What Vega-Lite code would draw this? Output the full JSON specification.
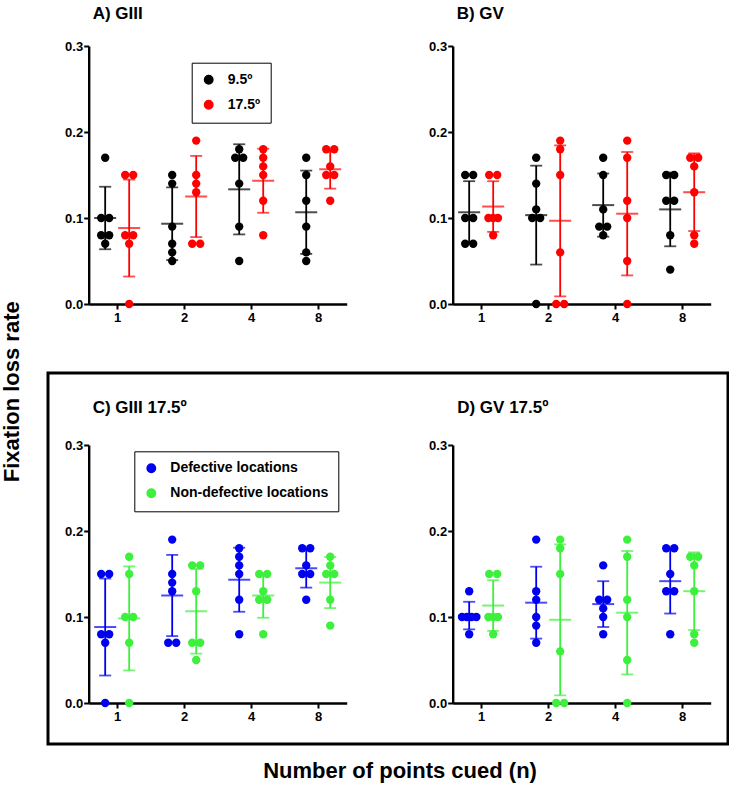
{
  "$schema": "https://vega.github.io/schema/vega-lite/v6.json",
  "padding": {"left": 0, "top": 0, "right": 0, "bottom": 0},
  "title": {"text": "Fixation loss rate", "orient": "left", "anchor": "middle", "fontSize": 22, "fontWeight": "bold", "offset": 23, "color": "black", "font": "Liberation Sans"},
  "spacing": 31,
  "resolve": {"scale": {"color": "independent"}},
  "datasets": {
    "top": [
      {"p": "A", "n": 1, "g": "9.5º", "v": 0.17}, {"p": "A", "n": 1, "g": "9.5º", "v": 0.10}, {"p": "A", "n": 1, "g": "9.5º", "v": 0.10}, {"p": "A", "n": 1, "g": "9.5º", "v": 0.08}, {"p": "A", "n": 1, "g": "9.5º", "v": 0.08}, {"p": "A", "n": 1, "g": "9.5º", "v": 0.07},
      {"p": "A", "n": 1, "g": "17.5º", "v": 0.15}, {"p": "A", "n": 1, "g": "17.5º", "v": 0.15}, {"p": "A", "n": 1, "g": "17.5º", "v": 0.08}, {"p": "A", "n": 1, "g": "17.5º", "v": 0.08}, {"p": "A", "n": 1, "g": "17.5º", "v": 0.07}, {"p": "A", "n": 1, "g": "17.5º", "v": 0.00},
      {"p": "A", "n": 2, "g": "9.5º", "v": 0.15}, {"p": "A", "n": 2, "g": "9.5º", "v": 0.14}, {"p": "A", "n": 2, "g": "9.5º", "v": 0.09}, {"p": "A", "n": 2, "g": "9.5º", "v": 0.07}, {"p": "A", "n": 2, "g": "9.5º", "v": 0.06}, {"p": "A", "n": 2, "g": "9.5º", "v": 0.05},
      {"p": "A", "n": 2, "g": "17.5º", "v": 0.19}, {"p": "A", "n": 2, "g": "17.5º", "v": 0.15}, {"p": "A", "n": 2, "g": "17.5º", "v": 0.14}, {"p": "A", "n": 2, "g": "17.5º", "v": 0.13}, {"p": "A", "n": 2, "g": "17.5º", "v": 0.07}, {"p": "A", "n": 2, "g": "17.5º", "v": 0.07},
      {"p": "A", "n": 4, "g": "9.5º", "v": 0.18}, {"p": "A", "n": 4, "g": "9.5º", "v": 0.17}, {"p": "A", "n": 4, "g": "9.5º", "v": 0.17}, {"p": "A", "n": 4, "g": "9.5º", "v": 0.14}, {"p": "A", "n": 4, "g": "9.5º", "v": 0.09}, {"p": "A", "n": 4, "g": "9.5º", "v": 0.05},
      {"p": "A", "n": 4, "g": "17.5º", "v": 0.18}, {"p": "A", "n": 4, "g": "17.5º", "v": 0.17}, {"p": "A", "n": 4, "g": "17.5º", "v": 0.16}, {"p": "A", "n": 4, "g": "17.5º", "v": 0.15}, {"p": "A", "n": 4, "g": "17.5º", "v": 0.12}, {"p": "A", "n": 4, "g": "17.5º", "v": 0.08},
      {"p": "A", "n": 8, "g": "9.5º", "v": 0.17}, {"p": "A", "n": 8, "g": "9.5º", "v": 0.15}, {"p": "A", "n": 8, "g": "9.5º", "v": 0.12}, {"p": "A", "n": 8, "g": "9.5º", "v": 0.09}, {"p": "A", "n": 8, "g": "9.5º", "v": 0.06}, {"p": "A", "n": 8, "g": "9.5º", "v": 0.05},
      {"p": "A", "n": 8, "g": "17.5º", "v": 0.18}, {"p": "A", "n": 8, "g": "17.5º", "v": 0.18}, {"p": "A", "n": 8, "g": "17.5º", "v": 0.16}, {"p": "A", "n": 8, "g": "17.5º", "v": 0.15}, {"p": "A", "n": 8, "g": "17.5º", "v": 0.15}, {"p": "A", "n": 8, "g": "17.5º", "v": 0.12},
      {"p": "B", "n": 1, "g": "9.5º", "v": 0.15}, {"p": "B", "n": 1, "g": "9.5º", "v": 0.15}, {"p": "B", "n": 1, "g": "9.5º", "v": 0.10}, {"p": "B", "n": 1, "g": "9.5º", "v": 0.10}, {"p": "B", "n": 1, "g": "9.5º", "v": 0.07}, {"p": "B", "n": 1, "g": "9.5º", "v": 0.07},
      {"p": "B", "n": 1, "g": "17.5º", "v": 0.15}, {"p": "B", "n": 1, "g": "17.5º", "v": 0.15}, {"p": "B", "n": 1, "g": "17.5º", "v": 0.10}, {"p": "B", "n": 1, "g": "17.5º", "v": 0.10}, {"p": "B", "n": 1, "g": "17.5º", "v": 0.10}, {"p": "B", "n": 1, "g": "17.5º", "v": 0.08},
      {"p": "B", "n": 2, "g": "9.5º", "v": 0.17}, {"p": "B", "n": 2, "g": "9.5º", "v": 0.14}, {"p": "B", "n": 2, "g": "9.5º", "v": 0.11}, {"p": "B", "n": 2, "g": "9.5º", "v": 0.10}, {"p": "B", "n": 2, "g": "9.5º", "v": 0.10}, {"p": "B", "n": 2, "g": "9.5º", "v": 0.00},
      {"p": "B", "n": 2, "g": "17.5º", "v": 0.19}, {"p": "B", "n": 2, "g": "17.5º", "v": 0.18}, {"p": "B", "n": 2, "g": "17.5º", "v": 0.15}, {"p": "B", "n": 2, "g": "17.5º", "v": 0.06}, {"p": "B", "n": 2, "g": "17.5º", "v": 0.00}, {"p": "B", "n": 2, "g": "17.5º", "v": 0.00},
      {"p": "B", "n": 4, "g": "9.5º", "v": 0.17}, {"p": "B", "n": 4, "g": "9.5º", "v": 0.15}, {"p": "B", "n": 4, "g": "9.5º", "v": 0.11}, {"p": "B", "n": 4, "g": "9.5º", "v": 0.09}, {"p": "B", "n": 4, "g": "9.5º", "v": 0.09}, {"p": "B", "n": 4, "g": "9.5º", "v": 0.08},
      {"p": "B", "n": 4, "g": "17.5º", "v": 0.19}, {"p": "B", "n": 4, "g": "17.5º", "v": 0.17}, {"p": "B", "n": 4, "g": "17.5º", "v": 0.12}, {"p": "B", "n": 4, "g": "17.5º", "v": 0.10}, {"p": "B", "n": 4, "g": "17.5º", "v": 0.05}, {"p": "B", "n": 4, "g": "17.5º", "v": 0.00},
      {"p": "B", "n": 8, "g": "9.5º", "v": 0.15}, {"p": "B", "n": 8, "g": "9.5º", "v": 0.15}, {"p": "B", "n": 8, "g": "9.5º", "v": 0.12}, {"p": "B", "n": 8, "g": "9.5º", "v": 0.12}, {"p": "B", "n": 8, "g": "9.5º", "v": 0.08}, {"p": "B", "n": 8, "g": "9.5º", "v": 0.04},
      {"p": "B", "n": 8, "g": "17.5º", "v": 0.17}, {"p": "B", "n": 8, "g": "17.5º", "v": 0.17}, {"p": "B", "n": 8, "g": "17.5º", "v": 0.16}, {"p": "B", "n": 8, "g": "17.5º", "v": 0.13}, {"p": "B", "n": 8, "g": "17.5º", "v": 0.08}, {"p": "B", "n": 8, "g": "17.5º", "v": 0.07}
    ],
    "bottom": [
      {"p": "C", "n": 1, "g": "Defective locations", "v": 0.15}, {"p": "C", "n": 1, "g": "Defective locations", "v": 0.15}, {"p": "C", "n": 1, "g": "Defective locations", "v": 0.08}, {"p": "C", "n": 1, "g": "Defective locations", "v": 0.08}, {"p": "C", "n": 1, "g": "Defective locations", "v": 0.07}, {"p": "C", "n": 1, "g": "Defective locations", "v": 0.00},
      {"p": "C", "n": 1, "g": "Non-defective locations", "v": 0.17}, {"p": "C", "n": 1, "g": "Non-defective locations", "v": 0.15}, {"p": "C", "n": 1, "g": "Non-defective locations", "v": 0.10}, {"p": "C", "n": 1, "g": "Non-defective locations", "v": 0.10}, {"p": "C", "n": 1, "g": "Non-defective locations", "v": 0.07}, {"p": "C", "n": 1, "g": "Non-defective locations", "v": 0.00},
      {"p": "C", "n": 2, "g": "Defective locations", "v": 0.19}, {"p": "C", "n": 2, "g": "Defective locations", "v": 0.15}, {"p": "C", "n": 2, "g": "Defective locations", "v": 0.14}, {"p": "C", "n": 2, "g": "Defective locations", "v": 0.13}, {"p": "C", "n": 2, "g": "Defective locations", "v": 0.07}, {"p": "C", "n": 2, "g": "Defective locations", "v": 0.07},
      {"p": "C", "n": 2, "g": "Non-defective locations", "v": 0.16}, {"p": "C", "n": 2, "g": "Non-defective locations", "v": 0.16}, {"p": "C", "n": 2, "g": "Non-defective locations", "v": 0.13}, {"p": "C", "n": 2, "g": "Non-defective locations", "v": 0.07}, {"p": "C", "n": 2, "g": "Non-defective locations", "v": 0.07}, {"p": "C", "n": 2, "g": "Non-defective locations", "v": 0.05},
      {"p": "C", "n": 4, "g": "Defective locations", "v": 0.18}, {"p": "C", "n": 4, "g": "Defective locations", "v": 0.17}, {"p": "C", "n": 4, "g": "Defective locations", "v": 0.16}, {"p": "C", "n": 4, "g": "Defective locations", "v": 0.15}, {"p": "C", "n": 4, "g": "Defective locations", "v": 0.12}, {"p": "C", "n": 4, "g": "Defective locations", "v": 0.08},
      {"p": "C", "n": 4, "g": "Non-defective locations", "v": 0.15}, {"p": "C", "n": 4, "g": "Non-defective locations", "v": 0.15}, {"p": "C", "n": 4, "g": "Non-defective locations", "v": 0.13}, {"p": "C", "n": 4, "g": "Non-defective locations", "v": 0.12}, {"p": "C", "n": 4, "g": "Non-defective locations", "v": 0.12}, {"p": "C", "n": 4, "g": "Non-defective locations", "v": 0.08},
      {"p": "C", "n": 8, "g": "Defective locations", "v": 0.18}, {"p": "C", "n": 8, "g": "Defective locations", "v": 0.18}, {"p": "C", "n": 8, "g": "Defective locations", "v": 0.16}, {"p": "C", "n": 8, "g": "Defective locations", "v": 0.15}, {"p": "C", "n": 8, "g": "Defective locations", "v": 0.15}, {"p": "C", "n": 8, "g": "Defective locations", "v": 0.12},
      {"p": "C", "n": 8, "g": "Non-defective locations", "v": 0.17}, {"p": "C", "n": 8, "g": "Non-defective locations", "v": 0.16}, {"p": "C", "n": 8, "g": "Non-defective locations", "v": 0.15}, {"p": "C", "n": 8, "g": "Non-defective locations", "v": 0.15}, {"p": "C", "n": 8, "g": "Non-defective locations", "v": 0.12}, {"p": "C", "n": 8, "g": "Non-defective locations", "v": 0.09},
      {"p": "D", "n": 1, "g": "Defective locations", "v": 0.13}, {"p": "D", "n": 1, "g": "Defective locations", "v": 0.10}, {"p": "D", "n": 1, "g": "Defective locations", "v": 0.10}, {"p": "D", "n": 1, "g": "Defective locations", "v": 0.10}, {"p": "D", "n": 1, "g": "Defective locations", "v": 0.10}, {"p": "D", "n": 1, "g": "Defective locations", "v": 0.08},
      {"p": "D", "n": 1, "g": "Non-defective locations", "v": 0.15}, {"p": "D", "n": 1, "g": "Non-defective locations", "v": 0.15}, {"p": "D", "n": 1, "g": "Non-defective locations", "v": 0.10}, {"p": "D", "n": 1, "g": "Non-defective locations", "v": 0.10}, {"p": "D", "n": 1, "g": "Non-defective locations", "v": 0.10}, {"p": "D", "n": 1, "g": "Non-defective locations", "v": 0.08},
      {"p": "D", "n": 2, "g": "Defective locations", "v": 0.19}, {"p": "D", "n": 2, "g": "Defective locations", "v": 0.13}, {"p": "D", "n": 2, "g": "Defective locations", "v": 0.12}, {"p": "D", "n": 2, "g": "Defective locations", "v": 0.10}, {"p": "D", "n": 2, "g": "Defective locations", "v": 0.09}, {"p": "D", "n": 2, "g": "Defective locations", "v": 0.07},
      {"p": "D", "n": 2, "g": "Non-defective locations", "v": 0.19}, {"p": "D", "n": 2, "g": "Non-defective locations", "v": 0.18}, {"p": "D", "n": 2, "g": "Non-defective locations", "v": 0.15}, {"p": "D", "n": 2, "g": "Non-defective locations", "v": 0.06}, {"p": "D", "n": 2, "g": "Non-defective locations", "v": 0.00}, {"p": "D", "n": 2, "g": "Non-defective locations", "v": 0.00},
      {"p": "D", "n": 4, "g": "Defective locations", "v": 0.16}, {"p": "D", "n": 4, "g": "Defective locations", "v": 0.12}, {"p": "D", "n": 4, "g": "Defective locations", "v": 0.12}, {"p": "D", "n": 4, "g": "Defective locations", "v": 0.11}, {"p": "D", "n": 4, "g": "Defective locations", "v": 0.10}, {"p": "D", "n": 4, "g": "Defective locations", "v": 0.08},
      {"p": "D", "n": 4, "g": "Non-defective locations", "v": 0.19}, {"p": "D", "n": 4, "g": "Non-defective locations", "v": 0.17}, {"p": "D", "n": 4, "g": "Non-defective locations", "v": 0.12}, {"p": "D", "n": 4, "g": "Non-defective locations", "v": 0.10}, {"p": "D", "n": 4, "g": "Non-defective locations", "v": 0.05}, {"p": "D", "n": 4, "g": "Non-defective locations", "v": 0.00},
      {"p": "D", "n": 8, "g": "Defective locations", "v": 0.18}, {"p": "D", "n": 8, "g": "Defective locations", "v": 0.18}, {"p": "D", "n": 8, "g": "Defective locations", "v": 0.15}, {"p": "D", "n": 8, "g": "Defective locations", "v": 0.13}, {"p": "D", "n": 8, "g": "Defective locations", "v": 0.13}, {"p": "D", "n": 8, "g": "Defective locations", "v": 0.08},
      {"p": "D", "n": 8, "g": "Non-defective locations", "v": 0.17}, {"p": "D", "n": 8, "g": "Non-defective locations", "v": 0.17}, {"p": "D", "n": 8, "g": "Non-defective locations", "v": 0.16}, {"p": "D", "n": 8, "g": "Non-defective locations", "v": 0.13}, {"p": "D", "n": 8, "g": "Non-defective locations", "v": 0.08}, {"p": "D", "n": 8, "g": "Non-defective locations", "v": 0.07}
    ]
  },
  "vconcat": [
    {
      "width": 680, "height": 340,
      "data": {"name": "top"},
      "resolve": {"scale": {"x": "independent", "y": "independent"}, "axis": {"x": "independent", "y": "independent"}},
      "layer": [
        {
          "transform": [
            {"filter": "datum.p == 'A'"},
            {"window": [{"op": "row_number", "as": "rk"}, {"op": "count", "as": "cnt"}], "groupby": ["n", "g", "v"], "frame": [null, null]},
            {"calculate": "(datum.g == '9.5º' ? -1.5 : 1.5) + (datum.rk - (datum.cnt + 1) / 2) * (datum.cnt > 2 ? 0.6 : 1)", "as": "off"}
          ],
          "mark": {"type": "circle", "size": 70, "opacity": 1},
          "encoding": {
            "x": {"field": "n", "type": "ordinal", "scale": {"type": "point", "domain": [1, 2, 4, 8], "range": [40.7, 298.7], "padding": 0.425}, "axis": {"title": null, "orient": "bottom", "offset": -36, "labelPadding": 2, "labelAngle": 0}},
            "y": {"field": "v", "type": "quantitative", "scale": {"domain": [0, 0.3], "range": [304, 46], "nice": false}, "axis": {"orient": "left", "offset": -40.7, "values": [0, 0.1, 0.2, 0.3], "format": ".1f", "title": "A) GIII", "titleAngle": 0, "titleAlign": "left", "titleBaseline": "middle", "titleX": 3.5, "titleY": 13, "labelPadding": 1}},
            "xOffset": {"field": "off", "type": "quantitative", "scale": {"domain": [-3, 3], "range": [-24, 24]}},
            "color": {"field": "g", "type": "nominal", "scale": {"domain": ["9.5º", "17.5º"], "range": ["#000000", "#ff0000"]},
              "legend": {"orient": "none", "legendX": 143.7, "legendY": 62.7, "title": null, "padding": 10, "strokeColor": "black", "symbolType": "circle", "symbolSize": 70, "labelFontSize": 14, "labelFontWeight": "bold", "labelOffset": 12, "rowPadding": 9, "labelColor": "black",
                "encode": {"legend": {"update": {"strokeWidth": {"value": 2}}}}}}
          }
        },
        {
          "transform": [
            {"filter": "datum.p == 'A'"},
            {"aggregate": [{"op": "mean", "field": "v", "as": "m"}, {"op": "stdev", "field": "v", "as": "sd"}], "groupby": ["n", "g"]},
            {"calculate": "datum.m - datum.sd", "as": "lo"},
            {"calculate": "datum.m + datum.sd", "as": "hi"},
            {"calculate": "datum.g == '9.5º' ? -1.5 : 1.5", "as": "off"}
          ],
          "layer": [
            {"mark": {"type": "rule", "strokeWidth": 1.8}, "encoding": {"y": {"field": "lo", "type": "quantitative", "scale": {"domain": [0, 0.3], "range": [304, 46], "nice": false}, "axis": null}, "y2": {"field": "hi"}}},
            {"transform": [{"fold": ["lo", "hi"], "as": ["k", "cv"]}], "mark": {"type": "tick", "size": 12, "thickness": 1.8}, "encoding": {"y": {"field": "cv", "type": "quantitative", "scale": {"domain": [0, 0.3], "range": [304, 46], "nice": false}, "axis": null}}},
            {"mark": {"type": "tick", "size": 22, "thickness": 2}, "encoding": {"y": {"field": "m", "type": "quantitative", "scale": {"domain": [0, 0.3], "range": [304, 46], "nice": false}, "axis": null}}}
          ],
          "encoding": {
            "x": {"field": "n", "type": "ordinal", "scale": {"type": "point", "domain": [1, 2, 4, 8], "range": [40.7, 298.7], "padding": 0.425}, "axis": null},
            "xOffset": {"field": "off", "type": "quantitative", "scale": {"domain": [-3, 3], "range": [-24, 24]}},
            "color": {"field": "g", "type": "nominal", "scale": {"domain": ["9.5º", "17.5º"], "range": ["#000000", "#ff0000"]}, "legend": null}
          }
        },
        {
          "transform": [
            {"filter": "datum.p == 'B'"},
            {"window": [{"op": "row_number", "as": "rk"}, {"op": "count", "as": "cnt"}], "groupby": ["n", "g", "v"], "frame": [null, null]},
            {"calculate": "(datum.g == '9.5º' ? -1.5 : 1.5) + (datum.rk - (datum.cnt + 1) / 2) * (datum.cnt > 2 ? 0.6 : 1)", "as": "off"}
          ],
          "mark": {"type": "circle", "size": 70, "opacity": 1},
          "encoding": {
            "x": {"field": "n", "type": "ordinal", "scale": {"type": "point", "domain": [1, 2, 4, 8], "range": [404.7, 662.7], "padding": 0.425}, "axis": {"title": null, "orient": "bottom", "offset": -36, "labelPadding": 2, "labelAngle": 0}},
            "y": {"field": "v", "type": "quantitative", "scale": {"domain": [0, 0.3], "range": [304, 46], "nice": false}, "axis": {"orient": "left", "offset": -404.7, "values": [0, 0.1, 0.2, 0.3], "format": ".1f", "title": "B) GV", "titleAngle": 0, "titleAlign": "left", "titleBaseline": "middle", "titleX": 3.5, "titleY": 13, "labelPadding": 1}},
            "xOffset": {"field": "off", "type": "quantitative", "scale": {"domain": [-3, 3], "range": [-24, 24]}},
            "color": {"field": "g", "type": "nominal", "scale": {"domain": ["9.5º", "17.5º"], "range": ["#000000", "#ff0000"]}, "legend": null}
          }
        },
        {
          "transform": [
            {"filter": "datum.p == 'B'"},
            {"aggregate": [{"op": "mean", "field": "v", "as": "m"}, {"op": "stdev", "field": "v", "as": "sd"}], "groupby": ["n", "g"]},
            {"calculate": "datum.m - datum.sd", "as": "lo"},
            {"calculate": "datum.m + datum.sd", "as": "hi"},
            {"calculate": "datum.g == '9.5º' ? -1.5 : 1.5", "as": "off"}
          ],
          "layer": [
            {"mark": {"type": "rule", "strokeWidth": 1.8}, "encoding": {"y": {"field": "lo", "type": "quantitative", "scale": {"domain": [0, 0.3], "range": [304, 46], "nice": false}, "axis": null}, "y2": {"field": "hi"}}},
            {"transform": [{"fold": ["lo", "hi"], "as": ["k", "cv"]}], "mark": {"type": "tick", "size": 12, "thickness": 1.8}, "encoding": {"y": {"field": "cv", "type": "quantitative", "scale": {"domain": [0, 0.3], "range": [304, 46], "nice": false}, "axis": null}}},
            {"mark": {"type": "tick", "size": 22, "thickness": 2}, "encoding": {"y": {"field": "m", "type": "quantitative", "scale": {"domain": [0, 0.3], "range": [304, 46], "nice": false}, "axis": null}}}
          ],
          "encoding": {
            "x": {"field": "n", "type": "ordinal", "scale": {"type": "point", "domain": [1, 2, 4, 8], "range": [404.7, 662.7], "padding": 0.425}, "axis": null},
            "xOffset": {"field": "off", "type": "quantitative", "scale": {"domain": [-3, 3], "range": [-24, 24]}},
            "color": {"field": "g", "type": "nominal", "scale": {"domain": ["9.5º", "17.5º"], "range": ["#000000", "#ff0000"]}, "legend": null}
          }
        }
      ]
    },
    {
      "width": 680, "height": 371,
      "data": {"name": "bottom"},
      "view": {"stroke": "black", "strokeWidth": 3},
      "title": {"text": "Number of points cued (n)", "orient": "bottom", "anchor": "middle", "fontSize": 22, "fontWeight": "bold", "offset": 17, "dx": 12, "color": "black", "font": "Liberation Sans"},
      "resolve": {"scale": {"x": "independent", "y": "independent"}, "axis": {"x": "independent", "y": "independent"}},
      "layer": [
        {
          "transform": [
            {"filter": "datum.p == 'C'"},
            {"window": [{"op": "row_number", "as": "rk"}, {"op": "count", "as": "cnt"}], "groupby": ["n", "g", "v"], "frame": [null, null]},
            {"calculate": "(datum.g == 'Defective locations' ? -1.5 : 1.5) + (datum.rk - (datum.cnt + 1) / 2) * (datum.cnt > 2 ? 0.6 : 1)", "as": "off"}
          ],
          "mark": {"type": "circle", "size": 70, "opacity": 1},
          "encoding": {
            "x": {"field": "n", "type": "ordinal", "scale": {"type": "point", "domain": [1, 2, 4, 8], "range": [40.7, 298.7], "padding": 0.425}, "axis": {"title": null, "orient": "bottom", "offset": -41, "labelPadding": 2, "labelAngle": 0}},
            "y": {"field": "v", "type": "quantitative", "scale": {"domain": [0, 0.3], "range": [330, 72], "nice": false}, "axis": {"orient": "left", "offset": -40.7, "values": [0, 0.1, 0.2, 0.3], "format": ".1f", "title": "C) GIII 17.5º", "titleAngle": 0, "titleAlign": "left", "titleBaseline": "middle", "titleX": 3.5, "titleY": 34, "labelPadding": 1}},
            "xOffset": {"field": "off", "type": "quantitative", "scale": {"domain": [-3, 3], "range": [-24, 24]}},
            "color": {"field": "g", "type": "nominal", "scale": {"domain": ["Defective locations", "Non-defective locations"], "range": ["#0000f0", "#3cf03c"]},
              "legend": {"orient": "none", "legendX": 86.3, "legendY": 78.3, "title": null, "padding": 10, "strokeColor": "black", "symbolType": "circle", "symbolSize": 70, "labelFontSize": 14, "labelFontWeight": "bold", "labelOffset": 12, "rowPadding": 9, "labelColor": "black",
                "encode": {"legend": {"update": {"strokeWidth": {"value": 2}}}}}}
          }
        },
        {
          "transform": [
            {"filter": "datum.p == 'C'"},
            {"aggregate": [{"op": "mean", "field": "v", "as": "m"}, {"op": "stdev", "field": "v", "as": "sd"}], "groupby": ["n", "g"]},
            {"calculate": "datum.m - datum.sd", "as": "lo"},
            {"calculate": "datum.m + datum.sd", "as": "hi"},
            {"calculate": "datum.g == 'Defective locations' ? -1.5 : 1.5", "as": "off"}
          ],
          "layer": [
            {"mark": {"type": "rule", "strokeWidth": 1.8}, "encoding": {"y": {"field": "lo", "type": "quantitative", "scale": {"domain": [0, 0.3], "range": [330, 72], "nice": false}, "axis": null}, "y2": {"field": "hi"}}},
            {"transform": [{"fold": ["lo", "hi"], "as": ["k", "cv"]}], "mark": {"type": "tick", "size": 12, "thickness": 1.8}, "encoding": {"y": {"field": "cv", "type": "quantitative", "scale": {"domain": [0, 0.3], "range": [330, 72], "nice": false}, "axis": null}}},
            {"mark": {"type": "tick", "size": 22, "thickness": 2}, "encoding": {"y": {"field": "m", "type": "quantitative", "scale": {"domain": [0, 0.3], "range": [330, 72], "nice": false}, "axis": null}}}
          ],
          "encoding": {
            "x": {"field": "n", "type": "ordinal", "scale": {"type": "point", "domain": [1, 2, 4, 8], "range": [40.7, 298.7], "padding": 0.425}, "axis": null},
            "xOffset": {"field": "off", "type": "quantitative", "scale": {"domain": [-3, 3], "range": [-24, 24]}},
            "color": {"field": "g", "type": "nominal", "scale": {"domain": ["Defective locations", "Non-defective locations"], "range": ["#0000f0", "#3cf03c"]}, "legend": null}
          }
        },
        {
          "transform": [
            {"filter": "datum.p == 'D'"},
            {"window": [{"op": "row_number", "as": "rk"}, {"op": "count", "as": "cnt"}], "groupby": ["n", "g", "v"], "frame": [null, null]},
            {"calculate": "(datum.g == 'Defective locations' ? -1.5 : 1.5) + (datum.rk - (datum.cnt + 1) / 2) * (datum.cnt > 2 ? 0.6 : 1)", "as": "off"}
          ],
          "mark": {"type": "circle", "size": 70, "opacity": 1},
          "encoding": {
            "x": {"field": "n", "type": "ordinal", "scale": {"type": "point", "domain": [1, 2, 4, 8], "range": [404.7, 662.7], "padding": 0.425}, "axis": {"title": null, "orient": "bottom", "offset": -41, "labelPadding": 2, "labelAngle": 0}},
            "y": {"field": "v", "type": "quantitative", "scale": {"domain": [0, 0.3], "range": [330, 72], "nice": false}, "axis": {"orient": "left", "offset": -404.7, "values": [0, 0.1, 0.2, 0.3], "format": ".1f", "title": "D) GV 17.5º", "titleAngle": 0, "titleAlign": "left", "titleBaseline": "middle", "titleX": 4, "titleY": 34, "labelPadding": 1}},
            "xOffset": {"field": "off", "type": "quantitative", "scale": {"domain": [-3, 3], "range": [-24, 24]}},
            "color": {"field": "g", "type": "nominal", "scale": {"domain": ["Defective locations", "Non-defective locations"], "range": ["#0000f0", "#3cf03c"]}, "legend": null}
          }
        },
        {
          "transform": [
            {"filter": "datum.p == 'D'"},
            {"aggregate": [{"op": "mean", "field": "v", "as": "m"}, {"op": "stdev", "field": "v", "as": "sd"}], "groupby": ["n", "g"]},
            {"calculate": "datum.m - datum.sd", "as": "lo"},
            {"calculate": "datum.m + datum.sd", "as": "hi"},
            {"calculate": "datum.g == 'Defective locations' ? -1.5 : 1.5", "as": "off"}
          ],
          "layer": [
            {"mark": {"type": "rule", "strokeWidth": 1.8}, "encoding": {"y": {"field": "lo", "type": "quantitative", "scale": {"domain": [0, 0.3], "range": [330, 72], "nice": false}, "axis": null}, "y2": {"field": "hi"}}},
            {"transform": [{"fold": ["lo", "hi"], "as": ["k", "cv"]}], "mark": {"type": "tick", "size": 12, "thickness": 1.8}, "encoding": {"y": {"field": "cv", "type": "quantitative", "scale": {"domain": [0, 0.3], "range": [330, 72], "nice": false}, "axis": null}}},
            {"mark": {"type": "tick", "size": 22, "thickness": 2}, "encoding": {"y": {"field": "m", "type": "quantitative", "scale": {"domain": [0, 0.3], "range": [330, 72], "nice": false}, "axis": null}}}
          ],
          "encoding": {
            "x": {"field": "n", "type": "ordinal", "scale": {"type": "point", "domain": [1, 2, 4, 8], "range": [404.7, 662.7], "padding": 0.425}, "axis": null},
            "xOffset": {"field": "off", "type": "quantitative", "scale": {"domain": [-3, 3], "range": [-24, 24]}},
            "color": {"field": "g", "type": "nominal", "scale": {"domain": ["Defective locations", "Non-defective locations"], "range": ["#0000f0", "#3cf03c"]}, "legend": null}
          }
        }
      ]
    }
  ],
  "config": {
    "font": "Liberation Sans",
    "view": {"stroke": null},
    "axis": {"grid": false, "domainColor": "black", "domainWidth": 2.4, "tickColor": "black", "tickWidth": 2, "tickSize": 5, "labelFont": "Liberation Sans", "labelFontWeight": "bold", "labelFontSize": 13, "labelColor": "black", "titleFont": "Liberation Sans", "titleFontWeight": "bold", "titleFontSize": 17, "titleColor": "black"},
    "legend": {"labelFont": "Liberation Sans"}
  }
}
